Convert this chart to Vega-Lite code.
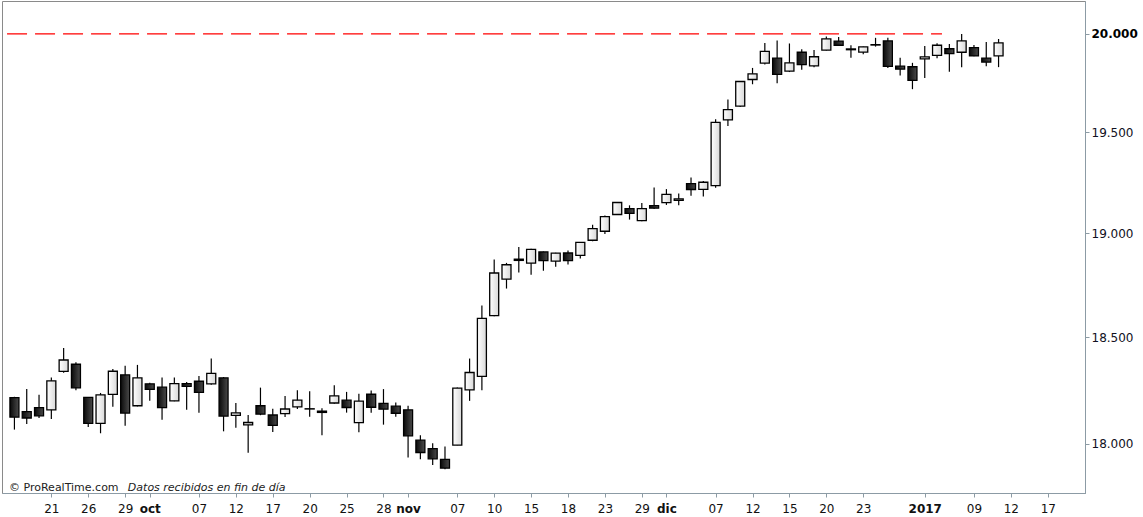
{
  "$schema": "https://vega.github.io/schema/vega-lite/v6.json",
  "width": 1083,
  "height": 492,
  "autosize": "none",
  "padding": {"left": 2, "top": 1, "right": 58, "bottom": 24},
  "background": "#ffffff",
  "config": {
    "view": {"stroke": "#8a8a8a", "strokeWidth": 1},
    "font": "DejaVu Sans",
    "axis": {"labelFont": "DejaVu Sans", "labelFontSize": 12, "labelColor": "#111111", "domainColor": "#8c9ba5", "tickColor": "#8c9ba5", "grid": false, "title": null}
  },
  "datasets": {
    "candles": [
      {"i": 0, "date": "2016-09-16", "o": 18215, "h": 18219, "l": 18066, "c": 18124},
      {"i": 1, "date": "2016-09-19", "o": 18150, "h": 18255, "l": 18092, "c": 18120},
      {"i": 2, "date": "2016-09-20", "o": 18168, "h": 18228, "l": 18120, "c": 18130},
      {"i": 3, "date": "2016-09-21", "o": 18158, "h": 18310, "l": 18115, "c": 18294},
      {"i": 4, "date": "2016-09-22", "o": 18338, "h": 18449, "l": 18332, "c": 18392},
      {"i": 5, "date": "2016-09-23", "o": 18372, "h": 18382, "l": 18250, "c": 18261},
      {"i": 6, "date": "2016-09-26", "o": 18216, "h": 18218, "l": 18078, "c": 18095},
      {"i": 7, "date": "2016-09-27", "o": 18095, "h": 18237, "l": 18049, "c": 18228},
      {"i": 8, "date": "2016-09-28", "o": 18230, "h": 18350, "l": 18173, "c": 18339},
      {"i": 9, "date": "2016-09-29", "o": 18322, "h": 18365, "l": 18084, "c": 18143},
      {"i": 10, "date": "2016-09-30", "o": 18177, "h": 18369, "l": 18174, "c": 18308},
      {"i": 11, "date": "2016-10-03", "o": 18280, "h": 18285, "l": 18201, "c": 18254},
      {"i": 12, "date": "2016-10-04", "o": 18264, "h": 18310, "l": 18112, "c": 18168},
      {"i": 13, "date": "2016-10-05", "o": 18200, "h": 18310, "l": 18198, "c": 18281},
      {"i": 14, "date": "2016-10-06", "o": 18281, "h": 18288, "l": 18158, "c": 18268},
      {"i": 15, "date": "2016-10-07", "o": 18292, "h": 18317, "l": 18145, "c": 18240},
      {"i": 16, "date": "2016-10-10", "o": 18280, "h": 18399, "l": 18276, "c": 18329},
      {"i": 17, "date": "2016-10-11", "o": 18308, "h": 18312, "l": 18058, "c": 18129},
      {"i": 18, "date": "2016-10-12", "o": 18132, "h": 18190, "l": 18075, "c": 18144},
      {"i": 19, "date": "2016-10-13", "o": 18088, "h": 18134, "l": 17959, "c": 18099},
      {"i": 20, "date": "2016-10-14", "o": 18177, "h": 18262, "l": 18133, "c": 18138},
      {"i": 21, "date": "2016-10-17", "o": 18134, "h": 18163, "l": 18055, "c": 18086},
      {"i": 22, "date": "2016-10-18", "o": 18140, "h": 18223, "l": 18125, "c": 18162},
      {"i": 23, "date": "2016-10-19", "o": 18172, "h": 18250, "l": 18162, "c": 18203},
      {"i": 24, "date": "2016-10-20", "o": 18163, "h": 18245, "l": 18126, "c": 18162},
      {"i": 25, "date": "2016-10-21", "o": 18152, "h": 18165, "l": 18040, "c": 18146},
      {"i": 26, "date": "2016-10-24", "o": 18190, "h": 18273, "l": 18186, "c": 18223},
      {"i": 27, "date": "2016-10-25", "o": 18203, "h": 18242, "l": 18145, "c": 18169},
      {"i": 28, "date": "2016-10-26", "o": 18098, "h": 18233, "l": 18054, "c": 18199},
      {"i": 29, "date": "2016-10-27", "o": 18231, "h": 18248, "l": 18144, "c": 18170},
      {"i": 30, "date": "2016-10-28", "o": 18188, "h": 18255, "l": 18089, "c": 18161},
      {"i": 31, "date": "2016-10-31", "o": 18175, "h": 18192, "l": 18126, "c": 18142},
      {"i": 32, "date": "2016-11-01", "o": 18158, "h": 18177, "l": 17937, "c": 18037},
      {"i": 33, "date": "2016-11-02", "o": 18017, "h": 18040, "l": 17929, "c": 17960},
      {"i": 34, "date": "2016-11-03", "o": 17978, "h": 18003, "l": 17902, "c": 17931},
      {"i": 35, "date": "2016-11-04", "o": 17928, "h": 17988, "l": 17883, "c": 17888},
      {"i": 36, "date": "2016-11-07", "o": 17994, "h": 18263, "l": 17994, "c": 18260},
      {"i": 37, "date": "2016-11-08", "o": 18251, "h": 18399, "l": 18200, "c": 18333},
      {"i": 38, "date": "2016-11-09", "o": 18315, "h": 18651, "l": 18250, "c": 18590},
      {"i": 39, "date": "2016-11-10", "o": 18603, "h": 18873, "l": 18600, "c": 18808},
      {"i": 40, "date": "2016-11-11", "o": 18778, "h": 18857, "l": 18733, "c": 18848},
      {"i": 41, "date": "2016-11-14", "o": 18875, "h": 18934, "l": 18810, "c": 18869},
      {"i": 42, "date": "2016-11-15", "o": 18856, "h": 18926, "l": 18800, "c": 18923},
      {"i": 43, "date": "2016-11-16", "o": 18910, "h": 18912, "l": 18819, "c": 18868},
      {"i": 44, "date": "2016-11-17", "o": 18866, "h": 18906, "l": 18838, "c": 18904},
      {"i": 45, "date": "2016-11-18", "o": 18905, "h": 18917, "l": 18849, "c": 18868},
      {"i": 46, "date": "2016-11-21", "o": 18893, "h": 18958, "l": 18878, "c": 18957},
      {"i": 47, "date": "2016-11-22", "o": 18967, "h": 19043, "l": 18962, "c": 19024},
      {"i": 48, "date": "2016-11-23", "o": 19011, "h": 19088, "l": 18997, "c": 19083},
      {"i": 49, "date": "2016-11-25", "o": 19093, "h": 19153, "l": 19090, "c": 19152},
      {"i": 50, "date": "2016-11-28", "o": 19122, "h": 19138, "l": 19068, "c": 19098},
      {"i": 51, "date": "2016-11-29", "o": 19063, "h": 19150, "l": 19060, "c": 19122},
      {"i": 52, "date": "2016-11-30", "o": 19137, "h": 19226, "l": 19120, "c": 19124},
      {"i": 53, "date": "2016-12-01", "o": 19151, "h": 19218, "l": 19140, "c": 19192},
      {"i": 54, "date": "2016-12-02", "o": 19162, "h": 19196, "l": 19139, "c": 19170},
      {"i": 55, "date": "2016-12-05", "o": 19245, "h": 19275, "l": 19185, "c": 19216},
      {"i": 56, "date": "2016-12-06", "o": 19217, "h": 19258, "l": 19181, "c": 19252},
      {"i": 57, "date": "2016-12-07", "o": 19235, "h": 19566, "l": 19225, "c": 19550},
      {"i": 58, "date": "2016-12-08", "o": 19563, "h": 19666, "l": 19532, "c": 19615},
      {"i": 59, "date": "2016-12-09", "o": 19632, "h": 19760, "l": 19628, "c": 19757},
      {"i": 60, "date": "2016-12-12", "o": 19767, "h": 19826, "l": 19743, "c": 19796},
      {"i": 61, "date": "2016-12-13", "o": 19850, "h": 19953, "l": 19843, "c": 19911},
      {"i": 62, "date": "2016-12-14", "o": 19876, "h": 19966, "l": 19748, "c": 19793},
      {"i": 63, "date": "2016-12-15", "o": 19810, "h": 19951, "l": 19805, "c": 19852},
      {"i": 64, "date": "2016-12-16", "o": 19906, "h": 19922, "l": 19817, "c": 19843},
      {"i": 65, "date": "2016-12-19", "o": 19836, "h": 19917, "l": 19830, "c": 19883},
      {"i": 66, "date": "2016-12-20", "o": 19917, "h": 19987, "l": 19915, "c": 19975},
      {"i": 67, "date": "2016-12-21", "o": 19963, "h": 19984, "l": 19940, "c": 19942},
      {"i": 68, "date": "2016-12-22", "o": 19923, "h": 19942, "l": 19878, "c": 19919},
      {"i": 69, "date": "2016-12-23", "o": 19907, "h": 19935, "l": 19896, "c": 19934},
      {"i": 70, "date": "2016-12-27", "o": 19943, "h": 19980, "l": 19935, "c": 19945},
      {"i": 71, "date": "2016-12-28", "o": 19964, "h": 19981, "l": 19825, "c": 19834},
      {"i": 72, "date": "2016-12-29", "o": 19835, "h": 19878, "l": 19788, "c": 19820},
      {"i": 73, "date": "2016-12-30", "o": 19832, "h": 19852, "l": 19718, "c": 19763},
      {"i": 74, "date": "2017-01-03", "o": 19872, "h": 19938, "l": 19775, "c": 19882},
      {"i": 75, "date": "2017-01-04", "o": 19890, "h": 19952, "l": 19876, "c": 19942},
      {"i": 76, "date": "2017-01-05", "o": 19924, "h": 19948, "l": 19807, "c": 19899},
      {"i": 77, "date": "2017-01-06", "o": 19906, "h": 19999.6, "l": 19830, "c": 19964},
      {"i": 78, "date": "2017-01-09", "o": 19930, "h": 19943, "l": 19885, "c": 19887},
      {"i": 79, "date": "2017-01-10", "o": 19876, "h": 19958, "l": 19834, "c": 19856},
      {"i": 80, "date": "2017-01-11", "o": 19887, "h": 19974, "l": 19830, "c": 19954}
    ],
    "level": [{"from": -0.6, "to": 75.4, "price": 20000}],
    "note": [
      {"kind": "source", "label": "© ProRealTime.com"},
      {"kind": "info", "label": "Datos recibidos en fin de día"}
    ]
  },
  "encoding": {
    "x": {
      "type": "quantitative",
      "scale": {"domain": [-0.604, 86.62], "nice": false, "zero": false},
      "axis": {
        "values": [3, 6, 9, 11, 15, 18, 21, 24, 27, 30, 32, 36, 39, 42, 45, 48, 51, 53, 57, 60, 63, 66, 69, 74, 78, 81, 84],
        "labelExpr": "['21','26','29','oct','07','12','17','20','25','28','nov','07','10','15','18','23','29','dic','07','12','15','20','23','2017','09','12','17'][indexof([3,6,9,11,15,18,21,24,27,30,32,36,39,42,45,48,51,53,57,60,63,66,69,74,78,81,84], datum.value)]",
        "labelFontWeight": {"condition": {"test": "indexof([11,32,53,74], datum.value) >= 0", "value": "bold"}, "value": "normal"},
        "tickSize": 4,
        "labelPadding": 6,
        "labelOverlap": false,
        "labelFlush": false,
        "labelBound": false
      }
    },
    "y": {
      "type": "quantitative",
      "scale": {"type": "log", "domain": [17774, 20170], "nice": false, "zero": false},
      "axis": {
        "orient": "right",
        "values": [18000, 18500, 19000, 19500, 20000],
        "labelExpr": "replace(format(datum.value, ','), ',', '.')",
        "labelFontWeight": {"condition": {"test": "datum.value == 20000", "value": "bold"}, "value": "normal"},
        "labelColor": {"condition": {"test": "datum.value == 20000", "value": "#000000"}, "value": "#111122"},
        "tickSize": 4,
        "labelPadding": 2,
        "labelFlush": false,
        "labelOverlap": false
      }
    }
  },
  "layer": [
    {
      "data": {"name": "level"},
      "mark": {"type": "rule", "color": "#ff0000", "strokeWidth": 1.3, "strokeDash": [20, 8], "clip": true},
      "encoding": {
        "x": {"field": "from"},
        "x2": {"field": "to"},
        "y": {"field": "price"}
      }
    },
    {
      "data": {"name": "candles"},
      "mark": {"type": "rule", "color": "#000000", "strokeWidth": 1.2},
      "encoding": {
        "x": {"field": "i"},
        "y": {"field": "l"},
        "y2": {"field": "h"}
      }
    },
    {
      "data": {"name": "candles"},
      "transform": [{"filter": "datum.c >= datum.o"}],
      "mark": {
        "type": "bar",
        "size": 9,
        "stroke": "#000000",
        "strokeWidth": 1.3,
        "fill": {"gradient": "linear", "x1": 0, "y1": 0, "x2": 1, "y2": 0, "stops": [{"offset": 0, "color": "#ffffff"}, {"offset": 1, "color": "#d8d8d8"}]}
      },
      "encoding": {
        "x": {"field": "i"},
        "y": {"field": "o"},
        "y2": {"field": "c"}
      }
    },
    {
      "data": {"name": "candles"},
      "transform": [{"filter": "datum.c < datum.o"}],
      "mark": {
        "type": "bar",
        "size": 9,
        "stroke": "#000000",
        "strokeWidth": 1.3,
        "fill": {"gradient": "linear", "x1": 0, "y1": 0, "x2": 1, "y2": 0, "stops": [{"offset": 0, "color": "#0a0a0a"}, {"offset": 1, "color": "#4a4a4a"}]}
      },
      "encoding": {
        "x": {"field": "i"},
        "y": {"field": "o"},
        "y2": {"field": "c"}
      }
    },
    {
      "data": {"name": "note"},
      "transform": [{"filter": "datum.kind == 'source'"}],
      "mark": {"type": "text", "align": "left", "baseline": "middle", "font": "DejaVu Sans", "fontSize": 11, "color": "#222222"},
      "encoding": {
        "x": {"datum": -0.44},
        "y": {"datum": 17797},
        "text": {"field": "label"}
      }
    },
    {
      "data": {"name": "note"},
      "transform": [{"filter": "datum.kind == 'info'"}],
      "mark": {"type": "text", "align": "left", "baseline": "middle", "font": "DejaVu Sans", "fontSize": 11, "fontStyle": "italic", "color": "#222222"},
      "encoding": {
        "x": {"datum": 9.22},
        "y": {"datum": 17797},
        "text": {"field": "label"}
      }
    }
  ]
}
